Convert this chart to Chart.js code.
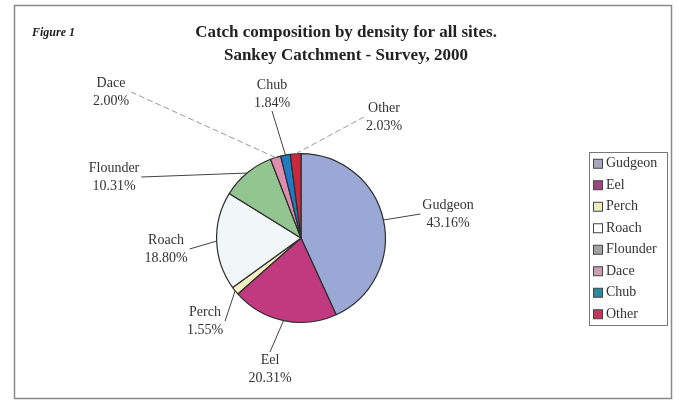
<!DOCTYPE html>
<html>
<head>
<meta charset="utf-8">
<script src="https://cdn.jsdelivr.net/npm/chart.js@4/dist/chart.umd.min.js"></script>
<style>
  html, body { margin: 0; padding: 0; background: #ffffff; }
  #wrap { width: 679px; height: 401px; position: relative; }
</style>
</head>
<body>
<div id="wrap"><canvas id="c" width="679" height="401"></canvas></div>
<script>
// ---- data ----
const categories = ['Gudgeon', 'Eel', 'Perch', 'Roach', 'Flounder', 'Dace', 'Chub', 'Other'];
const percentages = [43.16, 20.31, 1.55, 18.80, 10.31, 2.00, 1.84, 2.03];
const titleLines = ['Catch composition by density for all sites.', 'Sankey Catchment - Survey, 2000'];
const figureLabel = 'Figure 1';

// ---- styles / layout ----
const sliceColours = ['#9aa8d6', '#c13a80', '#f4f0c2', '#f1f7f8', '#93c591', '#de8cb0', '#1f7cc2', '#c8293f'];
const legendColours = ['#a9a6c0', '#a0467e', '#ecebc0', '#ffffff', '#a3a3a3', '#c9a0b4', '#2a8aa0', '#c0385a'];
// label centre offsets from the pie centre (px)
const labelOffsets = [[147, -24], [-31, 131], [-96, 83], [-135, 11], [-187, -61], [-190, -146], [-29, -144], [83, -121]];
const leaderFaint = [false, false, false, false, false, true, false, true];

const FONT = '"Liberation Serif", "Times New Roman", serif';

const fmtPct = v => v.toFixed(2) + '%';

const decorPlugin = {
  id: 'decor',
  beforeDraw(chart) {
    const ctx = chart.ctx;
    ctx.save();
    ctx.fillStyle = '#ffffff';
    ctx.fillRect(0, 0, chart.width, chart.height);
    // outer frame
    ctx.strokeStyle = '#8a8a8a';
    ctx.lineWidth = 1.5;
    ctx.strokeRect(14.5, 5.5, 657, 393);
    // title
    ctx.fillStyle = '#222';
    ctx.textAlign = 'center';
    ctx.textBaseline = 'middle';
    ctx.font = 'bold 17px ' + FONT;
    ctx.fillText(titleLines[0], 346, 33);
    ctx.fillText(titleLines[1], 346, 56);
    ctx.font = 'italic bold 12px ' + FONT;
    ctx.textAlign = 'left';
    ctx.fillText(figureLabel, 32, 33);
    ctx.restore();
  },
  afterDraw(chart) {
    const ctx = chart.ctx;
    const meta = chart.getDatasetMeta(0);
    ctx.save();
    ctx.font = '14px ' + FONT;
    ctx.textBaseline = 'middle';
    const lh = 18;
    meta.data.forEach((arc, i) => {
      const p = arc.getProps(['x', 'y', 'startAngle', 'endAngle', 'outerRadius'], true);
      const mid = (p.startAngle + p.endAngle) / 2;
      const ax = p.x + Math.cos(mid) * p.outerRadius;
      const ay = p.y + Math.sin(mid) * p.outerRadius;
      const cx = p.x + labelOffsets[i][0];
      const cy = p.y + labelOffsets[i][1];
      const l1 = categories[i];
      const l2 = fmtPct(percentages[i]);
      const w = Math.max(ctx.measureText(l1).width, ctx.measureText(l2).width);
      const left = cx - w / 2 - 2, right = cx + w / 2 + 2;
      const top = cy - lh / 2 - 8, bottom = cy + lh / 2 + 8;
      let ex, ey;
      if (ax >= left && ax <= right) {
        ex = cx; ey = ay < cy ? top : bottom;
      } else {
        ex = ax < left ? left : right; ey = cy;
      }
      ctx.beginPath();
      ctx.moveTo(ax, ay);
      ctx.lineTo(ex, ey);
      if (leaderFaint[i]) {
        ctx.strokeStyle = '#9a9a9a';
        ctx.setLineDash([6, 3]);
      } else {
        ctx.strokeStyle = '#444';
        ctx.setLineDash([]);
      }
      ctx.lineWidth = 1;
      ctx.stroke();
      ctx.setLineDash([]);
      ctx.fillStyle = '#333';
      ctx.textAlign = 'center';
      ctx.fillText(l1, cx, cy - lh / 2);
      ctx.fillText(l2, cx, cy + lh / 2);
    });
    // legend
    const lx = 589, ly = 152, lw = 78, rowH = 21.5;
    const lhgt = rowH * categories.length + 1;
    ctx.strokeStyle = '#777';
    ctx.lineWidth = 1;
    ctx.strokeRect(lx + 0.5, ly + 0.5, lw, lhgt);
    ctx.font = '14px ' + FONT;
    ctx.textAlign = 'left';
    categories.forEach((name, i) => {
      const yc = ly + rowH * i + rowH / 2 + 1;
      ctx.fillStyle = legendColours[i];
      ctx.fillRect(lx + 4.5, yc - 4.5, 9, 9);
      ctx.strokeStyle = '#444';
      ctx.strokeRect(lx + 4.5, yc - 4.5, 9, 9);
      ctx.fillStyle = '#333';
      ctx.fillText(name, lx + 17, yc);
    });
    ctx.restore();
  }
};

new Chart(document.getElementById('c'), {
  type: 'pie',
  data: {
    labels: categories,
    datasets: [{
      data: percentages,
      backgroundColor: sliceColours,
      borderColor: '#2e2e2e',
      borderWidth: 1.2
    }]
  },
  options: {
    responsive: false,
    animation: false,
    rotation: 0,
    layout: { padding: { left: 216, right: 293, top: 153, bottom: 78 } },
    plugins: {
      legend: { display: false },
      title: { display: false },
      tooltip: { enabled: false }
    }
  },
  plugins: [decorPlugin]
});
</script>
</body>
</html>
